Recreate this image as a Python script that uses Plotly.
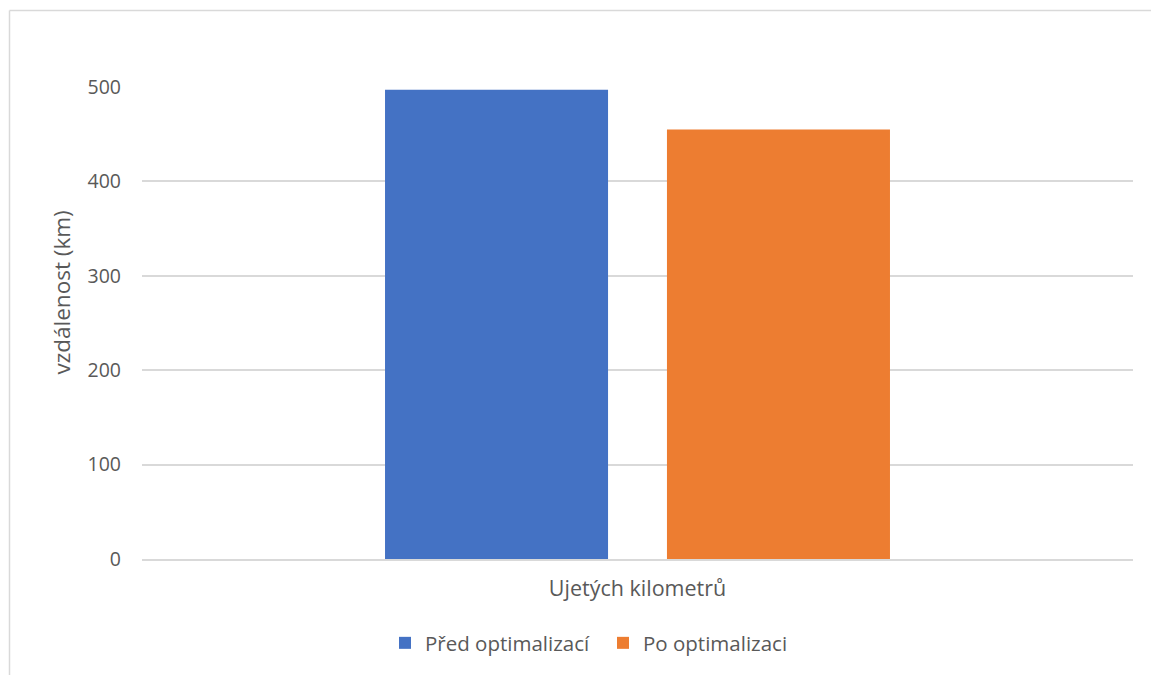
import plotly.graph_objects as go

# Data
category = ["Ujetých kilometrů"]
series_names = ["Před optimalizací", "Po optimalizaci"]
before_km = [497]
after_km = [455]
y_ticks = [0, 100, 200, 300, 400, 500]
y_title = "vzdálenost (km)"

colors = ["#4472C4", "#ED7D31"]
text_color = "#595959"
grid_color = "#D9D9D9"
font_family = "'Open Sans', sans-serif"

fig = go.Figure()
for name, vals, col in zip(series_names, [before_km, after_km], colors):
    fig.add_trace(go.Bar(x=category, y=vals, name=name, marker=dict(color=col, line=dict(width=0))))

plot_w, plot_h = 991, 472
frame_left = -132.5 / plot_w
frame_top = (675 - 10.5 - 116) / plot_h

# chart-area frame: top and left edges
frame = dict(color=grid_color, width=1.5)
shapes = [
    dict(type="line", xref="paper", yref="paper",
         x0=frame_left, x1=(1160 - 142) / plot_w, y0=frame_top, y1=frame_top,
         line=frame, layer="below"),
    dict(type="line", xref="paper", yref="paper",
         x0=frame_left, x1=frame_left, y0=-0.5, y1=frame_top,
         line=frame, layer="below"),
]

fig.update_layout(
    width=1151,
    height=675,
    margin=dict(l=142, r=18, t=87, b=116),
    paper_bgcolor="white",
    plot_bgcolor="white",
    barmode="group",
    bargap=0.431,
    bargroupgap=0.209,
    font=dict(family=font_family, color=text_color, size=19),
    showlegend=True,
    legend=dict(
        orientation="h",
        x=(385 - 142) / plot_w,
        xanchor="left",
        y=-0.178,
        yanchor="middle",
        font=dict(size=20.5, color=text_color),
        itemwidth=30,
        entrywidth=173,
        traceorder="normal",
    ),
    shapes=shapes,
    annotations=[
        dict(
            text=y_title, xref="paper", yref="paper",
            x=(61 - 142) / plot_w, y=(559.5 - 293) / plot_h,
            xanchor="center", yanchor="middle",
            textangle=-90, showarrow=False,
            font=dict(size=22.5, color=text_color),
        )
    ],
)

fig.update_xaxes(
    showline=True,
    linecolor=grid_color,
    linewidth=1.5,
    showgrid=False,
    ticks="",
    tickfont=dict(size=21.5, color=text_color),
    ticklabelstandoff=9,
)

fig.update_yaxes(
    range=[0, 500],
    tickvals=y_ticks,
    showgrid=True,
    gridcolor=grid_color,
    gridwidth=1.5,
    zeroline=False,
    showline=False,
    ticks="",
    ticklabelstandoff=20,
    tickfont=dict(size=19.5, color=text_color),
)

fig.write_html("out.html")
